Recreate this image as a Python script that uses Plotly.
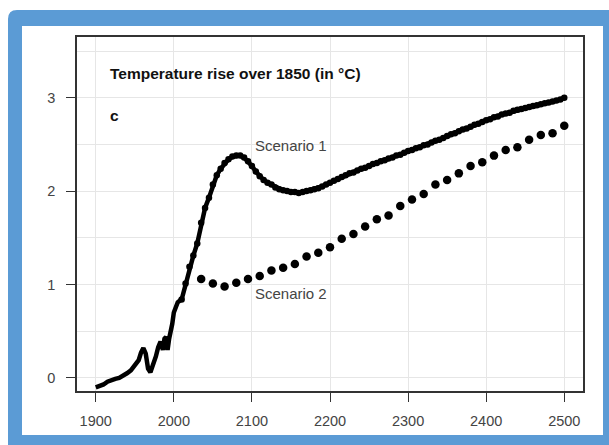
import plotly.graph_objects as go

# ---------------- data ----------------
hist_years = [1900, 1905, 1910, 1915, 1920, 1925, 1930, 1935, 1940, 1945, 1950, 1955,
              1958, 1961, 1964, 1967, 1970, 1973, 1977, 1980, 1983, 1986, 1988, 1990,
              1992, 1994, 1996, 1998, 2000, 2002, 2005, 2008, 2010]
hist_vals = [-0.10, -0.09, -0.07, -0.04, -0.02, -0.01, 0.00, 0.02, 0.05, 0.08, 0.13, 0.19,
             0.27, 0.32, 0.26, 0.10, 0.06, 0.12, 0.23, 0.33, 0.39, 0.30, 0.42, 0.44,
             0.30, 0.42, 0.48, 0.58, 0.70, 0.76, 0.81, 0.83, 0.84]

s1_years = list(range(2010, 2501, 5))
s1_vals = [0.84, 1.01, 1.19, 1.31, 1.44, 1.66, 1.82, 1.93, 2.07, 2.17,
           2.24, 2.30, 2.34, 2.37, 2.38, 2.38, 2.36, 2.32, 2.27, 2.21,
           2.16, 2.12, 2.09, 2.07, 2.04, 2.02, 2.01, 2.00, 1.99, 1.99,
           1.98, 1.99, 2.00, 2.01, 2.02, 2.03, 2.05, 2.07, 2.09, 2.11,
           2.13, 2.15, 2.17, 2.19, 2.20, 2.22, 2.24, 2.25, 2.27, 2.29,
           2.30, 2.32, 2.33, 2.35, 2.36, 2.38, 2.39, 2.41, 2.43, 2.44,
           2.46, 2.47, 2.49, 2.50, 2.52, 2.54, 2.55, 2.57, 2.59, 2.61,
           2.62, 2.64, 2.66, 2.67, 2.69, 2.71, 2.72, 2.74, 2.76, 2.77,
           2.79, 2.80, 2.82, 2.83, 2.84, 2.86, 2.87, 2.88, 2.89, 2.90,
           2.91, 2.92, 2.93, 2.94, 2.95, 2.96, 2.97, 2.98, 3.00]

s2_years = list(range(2035, 2501, 15))
s2_vals = [1.06, 1.01, 0.98, 1.02, 1.06, 1.09, 1.15, 1.18, 1.22, 1.30,
           1.34, 1.40, 1.49, 1.54, 1.62, 1.70, 1.74, 1.84, 1.91, 1.97,
           2.07, 2.12, 2.19, 2.27, 2.31, 2.38, 2.44, 2.47, 2.55, 2.60,
           2.62, 2.70]

x_ticks = [1900, 2000, 2100, 2200, 2300, 2400, 2500]
y_ticks = [0, 1, 2, 3]

title_text = "Temperature rise over 1850 (in °C)"
panel_text = "c"
label1 = "Scenario 1"
label2 = "Scenario 2"

# ---------------- figure ----------------
W, H = 609, 445
ML, MR, MT, MB = 77, 26, 37, 54
pw, ph = W - ML - MR, H - MT - MB


def px(x):
    return (x - ML) / pw


def py(y):
    return (H - MB - y) / ph


fig = go.Figure()

fig.add_trace(go.Scatter(x=hist_years, y=hist_vals, mode="lines",
                         line=dict(color="black", width=4.5), showlegend=False,
                         hoverinfo="skip"))
fig.add_trace(go.Scatter(x=s1_years, y=s1_vals, mode="lines+markers",
                         line=dict(color="black", width=4.5),
                         marker=dict(color="black", size=6.5), showlegend=False))
fig.add_trace(go.Scatter(x=s2_years, y=s2_vals, mode="markers",
                         marker=dict(color="black", size=8.5), showlegend=False))

font_family = "Liberation Sans, Arial, sans-serif"

fig.add_annotation(x=1916, y=3.26, xref="x", yref="y", text="<b>" + title_text + "</b>",
                   showarrow=False, xanchor="left", yanchor="middle",
                   font=dict(size=15.5, color="#111", family=font_family))
fig.add_annotation(x=1916, y=2.81, xref="x", yref="y", text="<b>" + panel_text + "</b>",
                   showarrow=False, xanchor="left", yanchor="middle",
                   font=dict(size=15.5, color="#111", family=font_family))
fig.add_annotation(x=2101, y=2.49, xref="x", yref="y", text=label1,
                   showarrow=False, xanchor="left", yanchor="middle",
                   font=dict(size=15, color="#444", family=font_family))
fig.add_annotation(x=2101, y=0.90, xref="x", yref="y", text=label2,
                   showarrow=False, xanchor="left", yanchor="middle",
                   font=dict(size=15, color="#444", family=font_family))

# blue frame with rounded top-left corner, and white panel
r = 9
blue_path = (f"M {px(8)},{py(470)} L {px(8)},{py(10 + r)} "
             f"Q {px(8)},{py(10)} {px(8 + r)},{py(10)} "
             f"L {px(640)},{py(10)} L {px(640)},{py(470)} Z")
fig.add_shape(type="path", path=blue_path, xref="paper", yref="paper",
              fillcolor="#5b9bd5", line=dict(width=0), layer="below")
fig.add_shape(type="rect", x0=px(22), x1=px(603), y0=py(26), y1=py(435),
              xref="paper", yref="paper", fillcolor="white", line=dict(width=0),
              layer="below")

axis_common = dict(showline=True, linecolor="#333", linewidth=1.5, mirror=True,
                   ticks="outside", ticklen=9, tickwidth=1, tickcolor="#333",
                   zeroline=False, gridcolor="#e6e6e6", gridwidth=1,
                   tickfont=dict(size=14.5, color="#444", family=font_family))

fig.update_xaxes(range=[1876, 2524], tickvals=x_ticks, ticktext=[str(t) for t in x_ticks],
                 ticklabelstandoff=7, **axis_common)
fig.update_yaxes(range=[-0.14, 3.65], tickvals=y_ticks, ticktext=[str(t) for t in y_ticks],
                 ticklabelstandoff=8,
                 minor=dict(dtick=0.5, tick0=0, showgrid=True, gridcolor="#e6e6e6",
                            ticks=""),
                 **axis_common)

fig.update_layout(width=W, height=H, margin=dict(l=ML, r=MR, t=MT, b=MB),
                  paper_bgcolor="white", plot_bgcolor="rgba(0,0,0,0)",
                  font=dict(family=font_family))

fig.write_html("out.html")
